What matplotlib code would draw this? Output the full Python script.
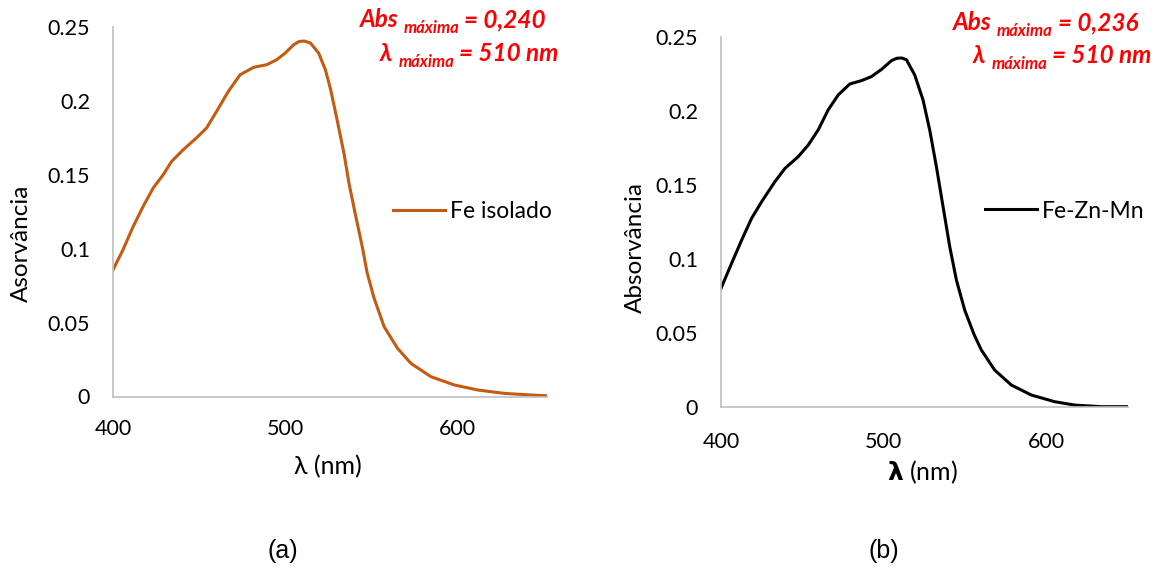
import numpy as np
import matplotlib
matplotlib.use('Agg')
import matplotlib.pyplot as plt

plt.rcParams['font.family'] = ['Lato', 'DejaVu Sans']
plt.rcParams['mathtext.fontset'] = 'custom'
plt.rcParams['mathtext.bf'] = 'DejaVu Sans:bold'

W, H = 1171, 572

# (a) Fe isolado
wl_fe = [400, 405.8, 411.7, 417.5, 423.3, 429.1, 434, 440.8, 448.5, 454.4, 460.2, 467,
         473.8, 481.6, 489.3, 495.1, 500, 504.9, 508, 511, 514.6, 519.4, 523.3, 526.3,
         530.1, 534.1, 537, 540.4, 544.7, 547.6, 551.6, 557.4, 565.2, 573, 584.6,
         598.2, 611.8, 627.3, 642.9, 652]
abs_fe = [0.0857, 0.0993, 0.115, 0.1286, 0.141, 0.150, 0.159, 0.167, 0.175, 0.1818,
          0.193, 0.2065, 0.2177, 0.2227, 0.2245, 0.2279, 0.2324, 0.238, 0.2402, 0.2405,
          0.2392, 0.2324, 0.2211, 0.208, 0.1873, 0.1646, 0.1444, 0.125, 0.1015, 0.0835,
          0.0665, 0.0473, 0.0326, 0.0224, 0.0134, 0.0078, 0.0044, 0.0021, 0.001, 0.0005]

# (b) Fe-Zn-Mn
wl_mix = [400, 406.5, 412.7, 418.8, 425, 433.1, 439.3, 447.4, 453.6, 459.7, 465.8, 472,
          479.1, 486.3, 492.4, 498.6, 504.7, 508, 511, 513.9, 519, 524.1, 528.2, 532.3,
          536.4, 540.5, 544.6, 549.7, 555.4, 559.9, 568.1, 578.3, 590.6, 604.9, 617.2,
          633.6, 650]
abs_mix = [0.0801, 0.097, 0.1128, 0.1275, 0.1388, 0.1523, 0.1613, 0.1692, 0.1771, 0.1873,
           0.2008, 0.211, 0.2184, 0.2207, 0.2234, 0.2283, 0.2342, 0.2358, 0.236, 0.2348,
           0.2245, 0.2076, 0.1873, 0.1625, 0.1354, 0.1083, 0.0857, 0.0654, 0.049, 0.0384,
           0.0248, 0.0147, 0.0079, 0.0034, 0.0011, 0.0, 0.0]

x_ticks = [400, 500, 600]
y_ticks = [0, 0.05, 0.1, 0.15, 0.2, 0.25]
y_ticklabels = ['0', '0.05', '0.1', '0.15', '0.2', '0.25']

fig = plt.figure(figsize=(W / 100, H / 100), dpi=100)


def px_axes(l, t, r, b):
    return fig.add_axes([l / W, 1 - b / H, (r - l) / W, (b - t) / H])


def style(ax, xmax, xpad):
    ax.set_xlim(400, xmax)
    ax.set_ylim(0, 0.25)
    ax.set_xticks(x_ticks)
    ax.set_yticks(y_ticks)
    ax.set_yticklabels(y_ticklabels)
    for s in ['top', 'right']:
        ax.spines[s].set_visible(False)
    for s in ['left', 'bottom']:
        ax.spines[s].set_color('#bfbfbf')
        ax.spines[s].set_linewidth(1.2)
    ax.tick_params(axis='both', length=0, labelsize=15.5, colors='#000000')
    ax.tick_params(axis='y', pad=16.5)
    ax.tick_params(axis='x', pad=xpad)


ax1 = px_axes(113, 27, 547, 396.5)
ax1.plot(wl_fe, abs_fe, color='#c55a11', lw=2.2, label='Fe isolado')
style(ax1, 652, 16)

ax2 = px_axes(721, 37.3, 1128, 406.7)
ax2.plot(wl_mix, abs_mix, color='black', lw=2.2, label='Fe-Zn-Mn')
style(ax2, 650, 18)

for ax, x0, y0 in [(ax1, 393, 212), (ax2, 985, 211)]:
    ax.legend(loc='center left', bbox_to_anchor=(x0 / W, 1 - y0 / H),
              bbox_transform=fig.transFigure, frameon=False, fontsize=16.5,
              borderpad=0, borderaxespad=0, handlelength=2.25, handletextpad=0.22)

# axis titles
fig.text(21 / W, 1 - 243 / H, 'Asorvância', rotation=90, ha='center', va='center', fontsize=17.5)
fig.text(635 / W, 1 - 247 / H, 'Absorvância', rotation=90, ha='center', va='center', fontsize=17.5)
fig.text(328 / W, 1 - 474 / H, 'λ (nm)', ha='center', va='baseline', fontsize=18)
fig.text(923 / W, 1 - 480 / H, r'$\mathbf{λ}$ (nm)', ha='center', va='baseline', fontsize=18)

fig.text(283 / W, 1 - 551 / H, '(a)', ha='center', va='center', fontsize=18,
         family='Liberation Sans')
fig.text(884 / W, 1 - 551 / H, '(b)', ha='center', va='center', fontsize=18,
         family='Liberation Sans')

renderer = fig.canvas.get_renderer()


def runs(x, y, parts):
    # parts: (text, size, drop in px, gap after in px)
    for s, size, dy, gap in parts:
        t = fig.text(x / W, 1 - (y + dy) / H, s, ha='left', va='baseline', fontsize=size,
                     color='#ff0000', fontweight='bold', fontstyle='italic')
        x += t.get_window_extent(renderer).width + gap


big, small = 17.5, 12
runs(360, 27, [('Abs', big, 0, 5), ('máxima', small, 6, 5), ('= 0,240', big, 0, 0)])
runs(380, 61, [('λ', big, 0, 6), ('máxima', small, 6, 5), ('= 510 nm', big, 0, 0)])
runs(953, 30, [('Abs', big, 0, 5), ('máxima', small, 6, 5), ('= 0,236', big, 0, 0)])
runs(973, 63, [('λ', big, 0, 6), ('máxima', small, 6, 5), ('= 510 nm', big, 0, 0)])

fig.savefig('out.png', dpi=100)
